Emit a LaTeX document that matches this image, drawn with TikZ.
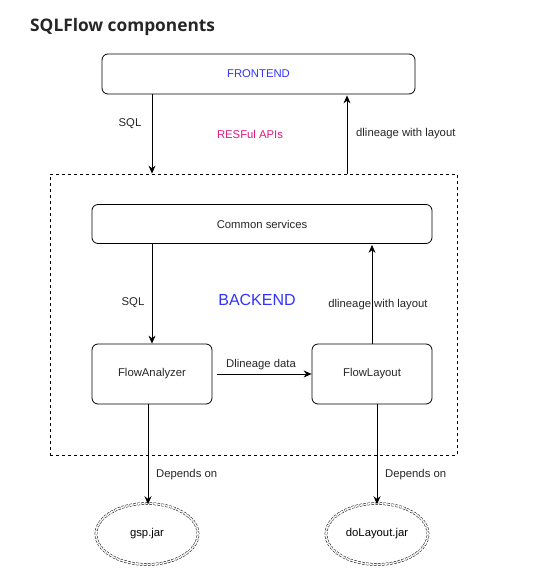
\documentclass[tikz,border=0pt]{standalone}
\usepackage{fontspec}
\setmainfont{Liberation Sans}
\newfontfamily\titlefont{Open Sans}
\usetikzlibrary{arrows.meta,shapes.geometric}
\definecolor{blueText}{HTML}{3333FF}
\definecolor{pinkText}{HTML}{E0197D}
\tikzset{
  box/.style={draw=black, line width=0.8pt, rounded corners=6pt, inner sep=0pt},
  lbl/.style={font=\fontsize{11.3}{13}\selectfont, text=black!85, inner sep=0pt},
  arr/.style={draw=black, line width=0.8pt, -{Stealth[length=8pt,width=7pt]}},
  jar/.style={ellipse, draw=black, double, double distance=1.6pt, line width=0.5pt, dash pattern=on 2.5pt off 1.5pt, minimum width=102pt, minimum height=61pt, inner sep=0pt, font=\fontsize{11.3}{13}\selectfont}
}
\begin{document}
\begin{tikzpicture}[x=1pt,y=-1pt]
\useasboundingbox (0,0) rectangle (551,577);
\fill[white] (0,0) rectangle (551,577);
\node[anchor=west, inner sep=0pt, font=\titlefont\bfseries\fontsize{17.3}{20}\selectfont, text=black!85] (title) at (30,27) {SQLFlow components};
% frontend
\node[box, minimum width=313pt, minimum height=40pt, text=blueText, font=\fontsize{11.3}{13}\selectfont] (fe) at (258.5,74) {FRONTEND};
% backend dashed
\node[draw=black, line width=0.8pt, dashed, minimum width=407pt, minimum height=281pt, inner sep=0pt] (be) at (253.5,314.5) {};
\node[text=blueText, font=\fontsize{16}{18}\selectfont, inner sep=0pt] (belbl) at (257,300) {BACKEND};
\node[text=pinkText, font=\fontsize{11.3}{13}\selectfont, inner sep=0pt] (rest) at (250,134) {RESFul APIs};
% common services
\node[box, minimum width=340pt, minimum height=39pt, lbl] (cs) at (262,224) {Common services};
\node[box, minimum width=120pt, minimum height=60pt, lbl] (fa) at (152,374) {FlowAnalyzer};
\node[box, minimum width=120pt, minimum height=60pt, lbl] (fl) at (372,374) {FlowLayout};
% jars
\node[jar] (gsp) at (147,534) {gsp.jar};
\node[jar] (dol) at (377,534) {doLayout.jar};
% connectors
\coordinate (a1s) at (fe.south -| 152,0);
\coordinate (a1e) at (be.north -| 152,0);
\draw[arr] (a1s) -- (a1e);
\node[lbl] (sql1) at (130,124) {SQL};
\coordinate (a2s) at (be.north -| 347,0);
\coordinate (a2e) at ([yshift=-1pt]fe.south -| 347,0);
\draw[arr] (a2s) -- (a2e);
\node[lbl, anchor=west] (dl1) at (356,134) {dlineage with layout};
\coordinate (a3s) at (cs.south -| 152,0);
\draw[arr] (a3s) -- (fa.north);
\node[lbl] (sql2) at (133,303) {SQL};
\coordinate (a4e) at ([yshift=-1pt]cs.south -| 372,0);
\draw[arr] (fl.north) -- (a4e);
\node[lbl] (dl2) at (378,305) {dlineage with layout};
\coordinate (a5s) at ([xshift=5pt]fa.east);
\draw[arr] (a5s) -- (fl.west);
\node[lbl] (dd) at (261,365) {Dlineage data};
\coordinate (a6s) at (fa.south -| 148,0);
\coordinate (a6e) at ([yshift=-1pt]gsp.north -| 148,0);
\draw[arr] (a6s) -- (a6e);
\node[lbl, anchor=west] (dep1) at (156,475) {Depends on};
\coordinate (a7s) at (fl.south -| 377,0);
\coordinate (a7e) at ([yshift=-1pt]dol.north -| 377,0);
\draw[arr] (a7s) -- (a7e);
\node[lbl, anchor=west] (dep2) at (385,475) {Depends on};
\end{tikzpicture}
\end{document}
